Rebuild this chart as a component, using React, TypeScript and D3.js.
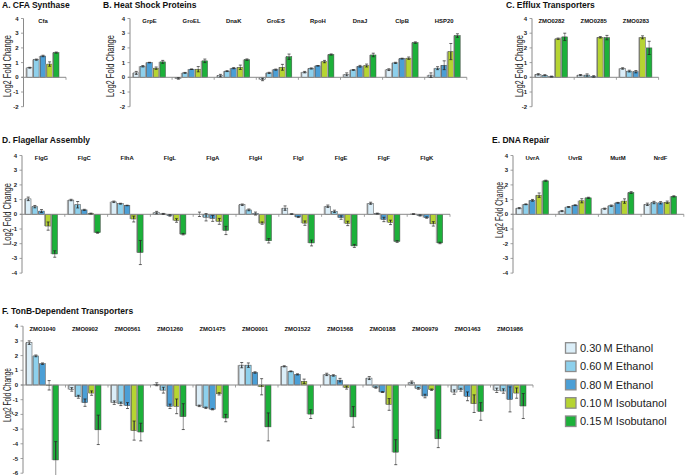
import React from "react";
import * as d3 from "d3";

const seriesNames = ["0.30\u2009M Ethanol", "0.60\u2009M Ethanol", "0.80\u2009M Ethanol", "0.10\u2009M Isobutanol", "0.15\u2009M Isobutanol"];
const seriesColors = ["#dbeef8", "#8dd0ec", "#4b9fd6", "#b6d432", "#1cb13a"];

const cfaGenes = ["Cfa"];
const cfaValues = [[0.65, 1.2, 1.45, 0.9, 1.68]];
const cfaErrors = [[0.03, 0.04, 0.05, 0.15, 0.04]];

const hspGenes = ["GrpE", "GroEL", "DnaK", "GroES", "RpoH", "DnaJ", "ClpB", "HSP20"];
const hspValues = [
  [0.3, 0.75, 1.0, 0.62, 1.05],
  [-0.08, 0.3, 0.55, 0.55, 1.12],
  [0.12, 0.42, 0.62, 0.68, 1.2],
  [-0.15, 0.3, 0.52, 0.68, 1.4],
  [0.35, 0.6, 0.78, 1.07, 1.55],
  [0.2, 0.5, 0.75, 0.8, 1.52],
  [0.52, 0.98, 1.27, 1.3, 2.36],
  [0.15, 0.62, 0.82, 1.75, 2.84],
];
const hspErrors = [
  [0.1, 0.05, 0.02, 0.08, 0.1],
  [0.05, 0.03, 0.02, 0.18, 0.12],
  [0.08, 0.03, 0.04, 0.15, 0.05],
  [0.08, 0.04, 0.04, 0.2, 0.18],
  [0.05, 0.04, 0.02, 0.08, 0.04],
  [0.1, 0.03, 0.06, 0.1, 0.12],
  [0.06, 0.04, 0.03, 0.08, 0.05],
  [0.15, 0.1, 0.3, 0.55, 0.12],
];

const effluxGenes = ["ZMO0282", "ZMO0285", "ZMO0283"];
const effluxValues = [
  [0.2, 0.14, 0.05, 2.62, 2.75],
  [0.15, 0.15, 0.06, 2.72, 2.7],
  [0.6, 0.42, 0.38, 2.72, 2.0],
];
const effluxErrors = [
  [0.05, 0.04, 0.03, 0.05, 0.25],
  [0.04, 0.08, 0.05, 0.05, 0.15],
  [0.05, 0.06, 0.08, 0.1, 0.45],
];

const flagGenes = ["FlgG", "FlgC", "FlhA", "FlgL", "FlgA", "FlgH", "FlgI", "FlgE", "FlgF", "FlgK"];
const flagValues = [
  [1.05, 0.52, 0.22, -0.8, -2.7],
  [0.97, 0.65, 0.3, 0.05, -1.25],
  [0.85, 0.72, 0.6, -0.32, -2.6],
  [0.12, 0.03, -0.08, -0.42, -1.35],
  [0.0, -0.2, -0.28, -0.48, -1.1],
  [0.65, 0.3, 0.05, -0.6, -1.8],
  [0.42, 0.02, -0.18, -0.6, -1.95],
  [0.55, 0.2, -0.22, -0.62, -2.15],
  [0.75, 0.05, -0.35, -0.55, -1.85],
  [0.02, -0.08, -0.22, -0.65, -1.95],
];
const flagErrors = [
  [0.12, 0.08, 0.1, 0.28, 0.22],
  [0.05, 0.22, 0.04, 0.03, 0.04],
  [0.05, 0.03, 0.02, 0.2, 0.82],
  [0.08, 0.03, 0.05, 0.12, 0.05],
  [0.15, 0.25, 0.2, 0.2, 0.28],
  [0.05, 0.06, 0.1, 0.08, 0.15],
  [0.15, 0.02, 0.04, 0.15, 0.2],
  [0.08, 0.08, 0.12, 0.15, 0.1],
  [0.07, 0.03, 0.15, 0.15, 0.06],
  [0.02, 0.04, 0.05, 0.15, 0.05],
];

const dnaGenes = ["UvrA", "UvrB", "MutM", "NrdF"];
const dnaValues = [
  [0.42, 0.68, 0.95, 1.3, 2.28],
  [0.22, 0.5, 0.62, 0.92, 1.12],
  [0.38, 0.58, 0.78, 0.9, 1.48],
  [0.68, 0.8, 0.78, 0.82, 1.22],
];
const dnaErrors = [
  [0.04, 0.03, 0.06, 0.15, 0.04],
  [0.04, 0.03, 0.03, 0.14, 0.04],
  [0.04, 0.05, 0.03, 0.15, 0.06],
  [0.08, 0.08, 0.08, 0.08, 0.04],
];

const tonbGenes = ["ZMO1040", "ZMO0902", "ZMO0561", "ZMO1260", "ZMO1475", "ZMO0001", "ZMO1522", "ZMO1568", "ZMO0188", "ZMO0979", "ZMO1463", "ZMO1986"];
const tonbValues = [
  [2.88, 1.98, 1.45, -0.02, -5.1],
  [-0.3, -0.8, -1.2, -0.55, -3.05],
  [-1.2, -1.28, -1.4, -3.1, -3.2],
  [0.05, -0.35, -1.45, -1.45, -2.15],
  [-1.42, -1.55, -1.65, -0.6, -2.25],
  [1.35, 1.35, 0.85, -0.12, -2.85],
  [1.27, 0.93, 0.72, 0.25, -1.98],
  [0.72, 0.65, 0.33, -0.18, -2.17],
  [0.47, -0.17, -0.48, -1.32, -4.57],
  [0.19, -0.23, -0.75, -0.32, -3.66],
  [-0.48, -0.32, -0.77, -1.27, -1.8],
  [-0.36, -0.41, -0.98, -0.55, -1.43],
];
const tonbErrors = [
  [0.12, 0.06, 0.05, 0.32, 1.25],
  [0.12, 0.1, 0.25, 0.15, 1.0],
  [0.12, 0.12, 0.2, 0.65, 0.6],
  [0.1, 0.2, 0.15, 0.5, 0.88],
  [0.05, 0.05, 0.04, 0.08, 0.25],
  [0.18, 0.15, 0.05, 0.55, 0.95],
  [0.04, 0.03, 0.04, 0.15, 0.3],
  [0.08, 0.05, 0.12, 0.1, 0.7],
  [0.1, 0.05, 0.03, 0.4, 0.85],
  [0.08, 0.06, 0.12, 0.05, 0.6],
  [0.15, 0.1, 0.3, 0.6, 0.6],
  [0.15, 0.15, 0.85, 0.35, 0.85],
];

const FONT = "'Liberation Sans', Arial, Helvetica, sans-serif";
const UNIT = 14.7;
const GROUP_W = 42.5;

type PanelProps = {
  title: string;
  titleX: number;
  titleY: number;
  axisX: number;
  zeroY: number;
  yMin: number;
  yMax: number;
  genes: string[];
  values: number[][];
  errors: number[][];
  labelX: number;
  labelY: number;
  labelLen: number;
  groupW?: number;
};

function Panel(p: PanelProps) {
  const gw = p.groupW ?? GROUP_W;
  const y = d3
    .scaleLinear()
    .domain([p.yMin, p.yMax])
    .range([p.zeroY - p.yMin * UNIT, p.zeroY - p.yMax * UNIT]);
  const x = d3
    .scaleBand<string>()
    .domain(p.genes)
    .range([p.axisX, p.axisX + p.genes.length * gw])
    .paddingInner(0)
    .paddingOuter(0);
  const inner = d3
    .scaleBand<number>()
    .domain(d3.range(seriesNames.length))
    .range([3.5, 35.5])
    .paddingInner(0.17);
  const ticks = d3.range(p.yMin, p.yMax + 1);
  const y0 = y(0);
  const xEnd = p.axisX + p.genes.length * gw;
  return (
    <g>
      <text x={p.titleX} y={p.titleY} fontFamily={FONT} fontWeight="bold" fontSize={8.5} fill="#111">
        {p.title}
      </text>
      <text
        transform={`translate(${p.labelX},${p.labelY}) rotate(-90)`}
        textAnchor="middle"
        dominantBaseline="central"
        fontFamily={FONT}
        fontSize={10}
        fill="#222"
        textLength={p.labelLen}
        lengthAdjust="spacingAndGlyphs"
      >
        Log2 Fold Change
      </text>
      {/* y axis */}
      <line x1={p.axisX} x2={p.axisX} y1={y(p.yMax)} y2={y(p.yMin)} stroke="#8a8a8a" strokeWidth={1} />
      {ticks.map((t) => (
        <g key={t}>
          <line x1={p.axisX - 2.5} x2={p.axisX} y1={y(t)} y2={y(t)} stroke="#8a8a8a" strokeWidth={0.8} />
          <text
            x={p.axisX - 5}
            y={y(t)}
            textAnchor="end"
            dominantBaseline="central"
            fontFamily={FONT}
            fontWeight="bold"
            fontSize={6}
            fill="#222"
          >
            {t}
          </text>
        </g>
      ))}
      {/* bars */}
      {p.genes.map((g, gi) => {
        const gx = x(g) as number;
        return (
          <g key={g}>
            <text
              x={gx + 19.5}
              y={y(p.yMax) + 4.5}
              textAnchor="middle"
              fontFamily={FONT}
              fontWeight="bold"
              fontSize={5.9}
              fill="#111"
            >
              {g}
            </text>
            {p.values[gi].map((v, si) => {
              const bx = gx + (inner(si) as number);
              const bw = inner.bandwidth();
              const top = Math.min(y(v), y0);
              const h = Math.abs(y(v) - y0);
              return (
                <g key={si}>
                  <rect x={bx - 1.4} y={top} width={bw} height={h} fill="#a9a9a9" />
                  <rect x={bx} y={top} width={bw} height={h} fill={seriesColors[si]} stroke="#4a4a4a" strokeWidth={0.5} />
                </g>
              );
            })}
          </g>
        );
      })}
      {/* zero line */}
      <line x1={p.axisX - 2} x2={xEnd} y1={y0} y2={y0} stroke="#8a8a8a" strokeWidth={1} />
      {p.genes.map((g) => {
        const gx = (x(g) as number) + gw;
        return <line key={g} x1={gx} x2={gx} y1={y0} y2={y0 + 2.5} stroke="#8a8a8a" strokeWidth={0.8} />;
      })}
      {/* error bars */}
      {p.genes.map((g, gi) => {
        const gx = x(g) as number;
        return p.values[gi].map((v, si) => {
          const e = p.errors[gi][si];
          const cx = gx + (inner(si) as number) + inner.bandwidth() / 2;
          const lo = v - e;
          const hi = v + e;
          const bLo = Math.min(0, v);
          const bHi = Math.max(0, v);
          const iLo = Math.max(lo, bLo);
          const iHi = Math.min(hi, bHi);
          return (
            <g key={`${g}-${si}`}>
              <line x1={cx} x2={cx} y1={y(lo)} y2={y(hi)} stroke="#7a7a7a" strokeWidth={0.8} />
              {iHi > iLo && <line x1={cx} x2={cx} y1={y(iLo)} y2={y(iHi)} stroke="#111" strokeWidth={0.8} />}
              <line x1={cx - 1.5} x2={cx + 1.5} y1={y(lo)} y2={y(lo)} stroke="#222" strokeWidth={0.7} />
              <line x1={cx - 1.5} x2={cx + 1.5} y1={y(hi)} y2={y(hi)} stroke="#222" strokeWidth={0.7} />
            </g>
          );
        });
      })}
    </g>
  );
}

function Legend() {
  const ly = d3.scaleLinear().domain([0, 4]).range([342.7, 416]);
  return (
    <g>
      {seriesNames.map((n, i) => (
        <g key={n}>
          <rect x={565.5} y={ly(i)} width={10.5} height={10.5} fill={seriesColors[i]} stroke="#8c8c8c" strokeWidth={1.3} />
          <text x={580} y={ly(i) + 9.3} fontFamily={FONT} fontSize={11} fill="#222">
            {n}
          </text>
        </g>
      ))}
    </g>
  );
}

export default function App() {
  return (
    <svg
      width={685}
      height={475}
      viewBox="0 0 685 475"
      style={{ position: "absolute", left: 0, top: 0, background: "#fff" }}
    >
      <rect x={0} y={0} width={685} height={475} fill="#fff" />
      <Panel title="A. CFA Synthase" titleX={2} titleY={7.5} axisX={23.5} zeroY={77.3} yMin={-2} yMax={4}
        genes={cfaGenes} values={cfaValues} errors={cfaErrors} labelX={7.5} labelY={66} labelLen={62} />
      <Panel title="B. Heat Shock Proteins" titleX={103} titleY={7.5} axisX={130} zeroY={77.3} yMin={-2} yMax={4}
        genes={hspGenes} values={hspValues} errors={hspErrors} labelX={110} labelY={66} labelLen={62} groupW={42.1} />
      <Panel title="C. Efflux Transporters" titleX={506} titleY={7.5} axisX={532} zeroY={77.3} yMin={-2} yMax={4}
        genes={effluxGenes} values={effluxValues} errors={effluxErrors} labelX={519} labelY={66} labelLen={62} groupW={42.2} />
      <Panel title="D. Flagellar Assembly" titleX={2} titleY={143} axisX={22} zeroY={214.3} yMin={-4} yMax={4}
        genes={flagGenes} values={flagValues} errors={flagErrors} labelX={7.5} labelY={214} labelLen={62} groupW={42.8} />
      <Panel title="E. DNA Repair" titleX={492} titleY={143} axisX={513} zeroY={214.3} yMin={-4} yMax={4}
        genes={dnaGenes} values={dnaValues} errors={dnaErrors} labelX={499} labelY={210} labelLen={56} groupW={42.7} />
      <Panel title="F. TonB-Dependent Transporters" titleX={2} titleY={314} axisX={23} zeroY={385} yMin={-6} yMax={4}
        genes={tonbGenes} values={tonbValues} errors={tonbErrors} labelX={7.5} labelY={395} labelLen={54} />
      <Legend />
    </svg>
  );
}
